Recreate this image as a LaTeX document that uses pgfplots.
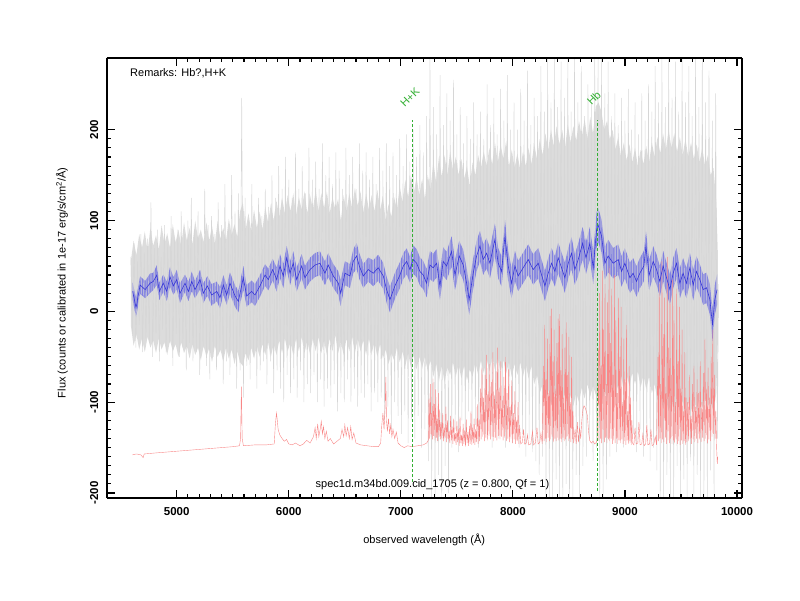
\documentclass[border=0pt]{standalone}
\usepackage{fontspec}
\setmainfont{Liberation Sans}
\usepackage{pgfplots}
\pgfplotsset{compat=1.18}
\usepackage{pgfplotstable}
\usepgfplotslibrary{fillbetween}
\definecolor{bandblue}{RGB}{112,112,226}
\definecolor{lineblue}{RGB}{55,55,215}
\definecolor{skyred}{RGB}{248,135,135}
\definecolor{specgray}{RGB}{214,214,214}
\definecolor{coregray}{RGB}{192,192,192}
\definecolor{mkgreen}{RGB}{50,175,50}

\pgfplotstableread{
x y e
4607 22 8
4637 4 9
4673 29 8
4718 24 8
4762 31 9
4791 33 8
4822 40 9
4845 22 8
4880 31 8
4911 22 9
4940 38 9
4970 28 8
5000 35 9
5029 20 9
5074 31 8
5104 22 9
5134 33 9
5163 24 8
5208 35 9
5237 20 9
5273 28 9
5312 18 10
5357 22 9
5386 15 10
5416 29 9
5446 18 9
5475 31 10
5520 17 10
5550 11 10
5594 37 11
5624 17 10
5669 22 10
5698 18 10
5743 28 10
5788 40 10
5817 35 10
5856 46 10
5892 35 11
5921 50 11
5951 39 11
5981 59 11
6011 42 11
6040 53 11
6070 35 11
6115 50 11
6144 37 11
6189 46 11
6234 51 11
6278 53 11
6323 42 11
6352 51 11
6397 39 11
6442 31 11
6463 20 12
6501 42 11
6546 39 11
6575 55 11
6605 61 12
6629 50 12
6665 39 11
6709 46 11
6754 42 12
6798 48 12
6843 39 12
6873 24 12
6903 13 12
6947 28 12
6992 40 12
7022 50 12
7052 55 12
7081 46 12
7111 57 13
7141 53 13
7170 44 13
7200 40 13
7230 31 13
7260 51 13
7289 48 13
7319 53 13
7349 28 13
7378 55 13
7408 50 13
7453 66 14
7483 40 14
7521 61 14
7557 51 14
7587 31 14
7610 13 14
7646 42 14
7676 61 14
7706 72 14
7735 57 14
7765 64 14
7795 53 14
7839 79 15
7869 53 14
7899 44 14
7929 83 15
7958 50 14
7988 31 14
8018 50 14
8047 39 14
8092 48 14
8137 57 14
8181 46 14
8226 53 14
8256 40 14
8286 28 14
8315 42 14
8345 53 14
8375 44 14
8404 59 14
8434 48 14
8464 37 14
8494 53 14
8523 64 15
8553 46 14
8583 57 15
8622 75 15
8652 59 15
8687 75 15
8717 48 15
8747 90 16
8761 95 16
8791 83 15
8821 53 15
8850 61 15
8895 53 14
8940 57 14
8970 44 14
8999 53 14
9044 37 14
9073 42 14
9103 33 14
9133 42 14
9169 50 14
9187 72 14
9216 40 14
9252 55 14
9282 46 14
9311 33 14
9341 50 14
9371 37 14
9401 24 14
9430 42 14
9460 53 14
9490 31 14
9519 42 14
9549 31 14
9579 48 14
9609 29 14
9638 44 14
9668 35 14
9698 24 14
9728 26 14
9758 13 14
9781 -15 15
9802 13 14
9822 24 14
}\bluetab

\pgfplotstableread{
x up lo
4590 55 -15
4615 78 -38
4640 62 -25
4665 85 -42
4690 70 -30
4715 88 -45
4740 66 -28
4765 92 -40
4790 72 -32
4815 84 -46
4840 68 -30
4865 95 -42
4890 74 -34
4915 86 -48
4940 70 -32
4965 96 -44
4990 76 -36
5015 90 -50
5040 72 -34
5065 98 -46
5090 78 -38
5115 92 -52
5140 74 -36
5165 100 -48
5190 80 -40
5215 90 -54
5240 76 -38
5265 98 -50
5290 78 -40
5315 94 -56
5340 74 -38
5365 100 -50
5390 80 -42
5415 92 -55
5440 78 -40
5465 102 -52
5490 84 -42
5515 96 -58
5540 82 -44
5565 110 -56
5590 120 -60
5615 90 -46
5640 108 -54
5665 88 -40
5690 112 -52
5715 92 -38
5740 110 -50
5765 90 -36
5790 115 -48
5815 98 -34
5840 118 -50
5865 100 -36
5890 122 -48
5915 104 -32
5940 125 -46
5965 108 -30
5990 128 -44
6015 110 -34
6040 130 -48
6065 106 -30
6090 126 -44
6115 112 -28
6140 132 -46
6165 108 -32
6190 128 -48
6215 112 -30
6240 134 -44
6265 110 -28
6290 130 -46
6315 114 -32
6340 132 -48
6365 108 -30
6390 126 -44
6415 112 -26
6440 124 -46
6465 100 -34
6490 128 -48
6515 110 -30
6540 130 -44
6565 114 -28
6590 136 -46
6615 116 -30
6640 132 -44
6665 108 -32
6690 130 -48
6715 112 -30
6740 128 -46
6765 110 -34
6790 134 -50
6815 112 -36
6840 126 -52
6865 100 -42
6890 118 -58
6915 104 -46
6940 126 -54
6965 112 -40
6990 138 -56
7015 120 -44
7040 145 -60
7065 126 -46
7090 150 -62
7115 130 -48
7140 148 -64
7165 128 -50
7190 146 -62
7215 124 -50
7240 150 -66
7265 134 -54
7290 165 -72
7315 142 -58
7340 170 -76
7365 148 -60
7390 172 -78
7415 150 -62
7440 176 -70
7465 156 -56
7490 170 -72
7515 150 -58
7540 168 -74
7565 146 -60
7590 160 -76
7615 138 -64
7640 164 -72
7665 150 -56
7690 172 -70
7715 158 -54
7740 176 -68
7765 160 -52
7790 180 -66
7815 162 -50
7840 186 -64
7865 164 -52
7890 184 -66
7915 168 -54
7940 188 -68
7965 160 -56
7990 178 -72
8015 158 -58
8040 174 -70
8065 156 -56
8090 176 -72
8115 160 -58
8140 180 -74
8165 162 -60
8190 184 -80
8215 168 -70
8240 190 -90
8265 172 -80
8290 196 -100
8315 178 -86
8340 200 -104
8365 182 -88
8390 204 -106
8415 184 -90
8440 200 -104
8465 180 -88
8490 206 -108
8515 186 -92
8540 204 -104
8565 188 -90
8590 210 -100
8615 192 -84
8640 212 -96
8665 190 -80
8690 214 -94
8715 196 -82
8740 226 -92
8765 230 -96
8790 220 -100
8815 200 -86
8840 210 -96
8865 190 -80
8890 200 -90
8915 178 -76
8940 192 -86
8965 170 -72
8990 186 -84
9015 166 -70
9040 184 -82
9065 164 -68
9090 180 -80
9115 160 -66
9140 178 -84
9165 162 -70
9190 182 -86
9215 164 -72
9240 186 -90
9265 170 -80
9290 192 -98
9315 174 -90
9340 196 -108
9365 178 -96
9390 200 -110
9415 180 -98
9440 196 -112
9465 176 -100
9490 192 -110
9515 172 -98
9540 190 -112
9565 170 -100
9590 186 -110
9615 168 -98
9640 184 -108
9665 164 -96
9690 180 -106
9715 160 -96
9740 172 -104
9765 150 -100
9790 158 -110
9815 120 -90
9830 60 -30
}\coretab

\begin{document}
\begin{tikzpicture}
\begin{axis}[
  at={(106.7pt,102pt)}, anchor=south west,
  width=635pt, height=440pt, scale only axis,
  xmin=4375, xmax=10042, ymin=-205.5, ymax=279,
  xtick={5000,6000,7000,8000,9000,10000},
  ytick={-200,-100,0,100,200},
  minor x tick num=9, minor y tick num=9,
  scaled x ticks=false, scaled y ticks=false,
  /pgf/number format/1000 sep={},
  /pgf/number format/assume math mode=true,
  axis on top,
  separate axis lines,
  tick align=inside,
  major tick length=8pt, minor tick length=4pt,
  axis line style={line width=1.6pt, black},
  tick style={line width=1.1pt, black},
  xticklabel style={font=\bfseries\fontsize{11.5}{13}\selectfont},
  yticklabel style={font=\bfseries\fontsize{11.5}{13}\selectfont, rotate=90, anchor=south},
  xticklabel shift=6pt,
  yticklabel shift=5pt,
  xlabel={observed wavelength (Å)},
  ylabel={Flux (counts or calibrated in 1e-17 erg/s/cm\textsuperscript{2}/Å)},
  xlabel style={font=\fontsize{11}{13}\selectfont, at={(axis description cs:0.5,-0.0955)}, anchor=center},
  ylabel style={font=\fontsize{11}{13}\selectfont, at={(axis description cs:-0.0704,0.489)}, anchor=center},
]
% noisy observed spectrum (outer excursions)
\addplot[specgray, line width=0.45pt] coordinates {
(4590,60)(4605,-25)(4620,75)(4635,-40)(4650,55)(4665,-15)(4680,85)(4695,-45)(4710,65)(4725,-30)
(4740,80)(4755,-35)(4770,120)(4785,-50)(4800,70)(4815,-25)(4830,90)(4845,-55)(4860,60)(4875,-20)
(4890,95)(4905,-45)(4920,75)(4935,-35)(4950,105)(4965,-60)(4980,80)(4995,-25)(5010,90)(5025,-50)
(5040,110)(5055,-40)(5070,85)(5085,-65)(5100,100)(5115,-35)(5130,125)(5145,-55)(5160,90)(5175,-45)
(5190,110)(5205,-70)(5220,80)(5235,-40)(5250,135)(5265,-60)(5280,95)(5295,-75)(5310,105)(5325,-50)
(5340,85)(5355,-65)(5370,120)(5385,-45)(5400,95)(5415,-80)(5430,140)(5445,-55)(5460,90)(5475,-70)
(5490,150)(5505,-50)(5520,110)(5535,-85)(5550,130)(5565,-65)(5580,235)(5595,-95)(5610,125)(5625,-60)
(5640,100)(5655,-75)(5670,140)(5685,-50)(5700,95)(5715,-85)(5730,125)(5745,-65)(5760,105)(5775,-55)
(5790,135)(5805,-80)(5820,115)(5835,-55)(5850,150)(5865,-90)(5880,125)(5895,-65)(5910,160)(5925,-85)
(5940,135)(5955,-100)(5970,170)(5985,-70)(6000,145)(6015,-90)(6030,125)(6045,-75)(6060,175)(6075,-95)
(6090,135)(6105,-65)(6120,160)(6135,-100)(6150,130)(6165,-80)(6180,180)(6195,-90)(6210,145)(6225,-70)
(6240,165)(6255,-100)(6270,135)(6285,-75)(6300,185)(6315,-105)(6330,150)(6345,-85)(6360,170)(6375,-95)
(6390,140)(6405,-80)(6420,175)(6435,-110)(6450,155)(6465,-90)(6480,135)(6495,-100)(6510,180)(6525,-75)
(6540,150)(6555,-100)(6570,170)(6585,-85)(6600,135)(6615,-105)(6630,185)(6645,-90)(6660,155)(6675,-95)
(6690,175)(6705,-80)(6720,145)(6735,-110)(6750,170)(6765,-90)(6780,140)(6795,-100)(6810,180)(6825,-95)
(6840,155)(6855,-120)(6870,185)(6885,-105)(6900,160)(6915,-130)(6930,175)(6945,-100)(6960,150)(6975,-115)
(6990,190)(7005,-135)(7020,160)(7035,-110)(7050,195)(7065,-145)(7080,165)(7095,-120)(7110,200)(7125,-140)
(7140,170)(7155,-115)(7170,205)(7185,-150)(7200,175)(7215,-130)(7230,215)(7245,-165)(7260,279)(7275,-205)
(7290,225)(7305,-205)(7320,195)(7335,-180)(7350,260)(7365,-205)(7380,205)(7395,-170)(7410,240)(7425,-200)
(7440,210)(7455,-150)(7470,255)(7485,-130)(7500,195)(7515,-155)(7530,225)(7545,-120)(7560,185)(7575,-140)
(7590,215)(7605,-110)(7620,190)(7635,-140)(7650,230)(7665,-125)(7680,195)(7695,-150)(7710,220)(7725,-115)
(7740,190)(7755,-135)(7770,250)(7785,-120)(7800,205)(7815,-150)(7830,235)(7845,-130)(7860,195)(7875,-140)
(7890,245)(7905,-115)(7920,210)(7935,-150)(7950,260)(7965,-130)(7980,200)(7995,-145)(8010,230)(8025,-120)
(8040,200)(8055,-150)(8070,245)(8085,-135)(8100,210)(8115,-160)(8130,265)(8145,-140)(8160,205)(8175,-155)
(8190,235)(8205,-165)(8220,215)(8235,-180)(8250,270)(8265,-160)(8280,220)(8295,-205)(8310,279)(8325,-205)
(8340,230)(8355,-205)(8370,279)(8385,-185)(8400,225)(8415,-205)(8430,275)(8445,-205)(8460,235)(8475,-190)
(8490,279)(8505,-205)(8520,220)(8535,-205)(8550,279)(8565,-180)(8580,230)(8595,-205)(8610,270)(8625,-170)
(8640,215)(8655,-160)(8670,250)(8685,-140)(8700,230)(8715,-165)(8730,279)(8745,-150)(8760,279)(8775,-205)
(8790,279)(8805,-205)(8820,240)(8835,-185)(8850,275)(8865,-160)(8880,215)(8895,-140)(8910,240)(8925,-155)
(8940,205)(8955,-130)(8970,235)(8985,-150)(9000,210)(9015,-125)(9030,245)(9045,-145)(9060,200)(9075,-135)
(9090,230)(9105,-155)(9120,195)(9135,-130)(9150,240)(9165,-160)(9180,210)(9195,-140)(9210,250)(9225,-165)
(9240,220)(9255,-150)(9270,270)(9285,-175)(9300,230)(9315,-205)(9330,279)(9345,-205)(9360,225)(9375,-180)
(9390,279)(9405,-205)(9420,235)(9435,-205)(9450,275)(9465,-170)(9480,220)(9495,-205)(9510,279)(9525,-185)
(9540,230)(9555,-205)(9570,270)(9585,-165)(9600,215)(9615,-205)(9630,279)(9645,-180)(9660,225)(9675,-205)
(9690,279)(9705,-205)(9720,230)(9735,-205)(9750,265)(9765,-175)(9780,210)(9795,-205)(9810,240)(9825,-140)(9835,30)
};
% dense core of the noisy spectrum
\addplot[draw=none, name path=cup, forget plot] table[x=x, y=up] {\coretab};
\addplot[draw=none, name path=clo, forget plot] table[x=x, y=lo] {\coretab};
\addplot[coregray, fill opacity=0.55, draw=none] fill between[of=cup and clo];
% sky spectrum
\addplot[skyred, line width=0.4pt] coordinates {
(4605,-158)(4640,-157)(4680,-158)(4700,-161)(4710,-157)(4800,-156)(4900,-155)(5000,-154)(5100,-153)(5200,-152)
(5300,-151)(5400,-150)(5500,-149)(5560,-148)(5570,-140)(5577,-83)(5584,-140)(5595,-148)(5700,-147)(5800,-147)
(5870,-146)(5880,-125)(5890,-112)(5896,-118)(5905,-130)(5920,-136)(5940,-140)(5960,-143)(5980,-141)(6000,-146)
(6030,-147)(6060,-145)(6100,-148)(6130,-146)(6160,-142)(6190,-145)(6220,-138)(6235,-128)(6245,-140)(6258,-124)
(6268,-138)(6280,-130)(6290,-121)(6300,-135)(6310,-127)(6322,-140)(6335,-132)(6350,-143)(6370,-140)(6400,-146)
(6430,-143)(6460,-140)(6475,-130)(6490,-138)(6500,-125)(6512,-137)(6525,-128)(6540,-140)(6553,-127)(6565,-141)
(6580,-134)(6600,-145)(6640,-147)(6700,-148)(6760,-149)(6800,-149)(6820,-145)(6830,-125)(6840,-112)(6850,-130)
(6860,-105)(6866,-72)(6872,-120)(6880,-132)(6890,-118)(6900,-135)(6910,-125)(6920,-138)(6930,-130)(6945,-140)
(6960,-133)(6975,-145)(7000,-148)(7030,-150)(7060,-148)(7100,-149)(7150,-148)(7200,-147)(7230,-145)
(7245,-142)(7251,-96)(7257,-140)(7263,-80)(7269,-138)(7275,-112)(7281,-141)(7287,-74)(7293,-137)(7299,-102)
(7305,-142)(7311,-86)(7317,-139)(7323,-118)(7329,-143)(7335,-90)(7341,-138)(7347,-108)(7353,-141)
(7360,-122)(7367,-140)(7374,-112)(7381,-143)(7388,-128)(7395,-139)(7402,-105)(7409,-144)(7416,-120)(7423,-141)
(7430,-132)(7437,-145)(7444,-115)(7451,-142)(7458,-127)(7465,-146)(7472,-118)(7479,-143)(7486,-134)(7493,-147)
(7500,-121)(7507,-144)(7514,-130)(7521,-148)(7528,-116)(7535,-145)(7542,-136)(7549,-148)(7556,-124)(7563,-146)
(7570,-131)(7577,-149)(7584,-119)(7591,-145)(7598,-133)(7605,-148)(7612,-126)(7619,-146)(7626,-110)(7633,-147)
(7640,-128)(7647,-145)(7654,-118)(7661,-147)(7668,-130)(7675,-144)(7682,-102)(7689,-146)(7696,-120)(7703,-143)
(7710,-85)(7717,-141)(7724,-62)(7731,-138)(7738,-95)(7745,-143)(7752,-70)(7759,-139)(7766,-48)(7773,-142)
(7780,-88)(7787,-137)(7794,-58)(7801,-141)(7808,-78)(7815,-138)(7822,-45)(7829,-143)(7836,-92)(7843,-139)
(7850,-66)(7857,-142)(7864,-40)(7871,-137)(7878,-84)(7885,-141)(7892,-55)(7899,-138)(7906,-98)(7913,-142)
(7920,-72)(7927,-139)(7934,-50)(7941,-143)(7948,-90)(7955,-140)(7962,-64)(7969,-144)(7976,-105)(7983,-140)
(7990,-76)(7997,-145)(8004,-112)(8011,-141)(8018,-88)(8025,-146)(8032,-120)(8039,-143)(8046,-100)(8053,-146)
(8060,-125)(8070,-146)(8085,-144)(8095,-130)(8105,-146)(8120,-145)(8130,-136)(8140,-147)(8160,-146)(8175,-132)
(8185,-147)(8200,-145)(8215,-128)(8225,-146)(8240,-144)(8250,-134)(8262,-146)
(8272,-60)(8278,-143)(8284,-15)(8290,-140)(8296,-75)(8302,-144)(8308,-30)(8314,-139)(8320,-90)(8326,-143)
(8332,-5)(8338,-141)(8344,3)(8350,-138)(8356,-55)(8362,-144)(8368,-20)(8374,-140)(8380,-85)(8386,-143)
(8392,-35)(8398,-139)(8404,-8)(8410,-142)(8416,-3)(8422,-140)(8428,-65)(8434,-144)(8440,-25)(8446,-139)
(8452,-95)(8458,-143)(8464,-40)(8470,-141)(8476,-12)(8482,-138)(8488,-70)(8494,-143)(8500,-28)(8506,-140)
(8512,-100)(8518,-144)(8524,-50)(8530,-141)(8536,-110)(8542,-145)
(8555,-130)(8565,-146)(8575,-122)(8585,-144)(8595,-128)(8605,-140)(8615,-120)(8625,-108)(8635,-104)(8645,-106)
(8655,-110)(8665,-115)(8675,-132)(8685,-142)(8700,-145)(8715,-143)(8730,-146)(8745,-144)(8755,-140)
(8762,-40)(8768,-143)(8774,20)(8780,-140)(8786,-60)(8792,-145)(8798,45)(8804,-141)(8810,-20)(8816,-144)
(8822,30)(8828,-139)(8834,-80)(8840,-145)(8846,10)(8852,-141)(8858,50)(8864,-143)(8870,-35)(8876,-140)
(8882,25)(8888,-146)(8894,-70)(8900,-142)(8906,40)(8912,-145)(8918,-10)(8924,-140)(8930,-90)(8936,-146)
(8942,15)(8948,-142)(8954,-50)(8960,-145)(8966,5)(8972,-141)(8978,-100)(8984,-146)(8990,-30)(8996,-143)
(9002,-75)(9008,-147)(9014,-15)(9020,-142)(9026,-110)(9032,-146)(9038,-60)(9044,-143)(9050,-95)(9056,-147)
(9062,-120)(9068,-145)
(9080,-147)(9090,-128)(9100,-146)(9115,-145)(9125,-122)(9135,-147)(9150,-146)(9160,-135)(9170,-148)(9185,-146)
(9195,-125)(9205,-147)(9220,-146)(9232,-130)(9242,-148)(9258,-146)(9270,-138)(9282,-147)
(9294,-50)(9300,-143)(9306,30)(9312,-140)(9318,-80)(9324,-145)(9330,55)(9336,-141)(9342,-25)(9348,-144)
(9354,15)(9360,-139)(9366,-90)(9372,-146)(9378,60)(9384,-142)(9390,-40)(9396,-145)(9402,20)(9408,-140)
(9414,-70)(9420,-146)(9426,35)(9432,-142)(9438,-10)(9444,-145)(9450,-100)(9456,-141)(9462,25)(9468,-146)
(9474,-55)(9480,-143)(9486,5)(9492,-147)(9498,-85)(9504,-142)(9510,-20)(9516,-146)(9522,-110)(9528,-143)
(9534,-45)(9540,-147)(9546,-95)(9552,-144)
(9560,-100)(9567,-143)(9574,-70)(9581,-140)(9588,-115)(9595,-146)(9602,-80)(9609,-141)(9616,-60)(9623,-144)
(9630,-105)(9637,-140)(9644,-75)(9651,-145)(9658,-90)(9665,-141)(9672,-55)(9679,-144)(9686,-100)(9693,-139)
(9700,-68)(9707,-143)(9714,-30)(9721,-140)(9728,-85)(9735,-145)(9742,-62)(9749,-141)(9756,-95)(9763,-143)
(9770,-50)(9777,-138)(9784,-20)(9791,-135)(9798,-70)(9805,-140)(9812,-110)(9818,-150)(9824,-168)(9828,-160)
};
% smoothed spectrum with band
\addplot[draw=none, name path=bup, forget plot] table[x=x, y expr=\thisrow{y}+1.2*\thisrow{e}] {\bluetab};
\addplot[draw=none, name path=blo, forget plot] table[x=x, y expr=\thisrow{y}-1.2*\thisrow{e}] {\bluetab};
\addplot[bandblue, fill opacity=0.85, draw=none] fill between[of=bup and blo];
\addplot[lineblue, line width=0.6pt] table[x=x, y=y] {\bluetab};
% line markers
\addplot[mkgreen, line width=0.8pt, dash pattern=on 3pt off 2pt] coordinates {(7105,-188) (7105,211)};
\addplot[mkgreen, line width=0.8pt, dash pattern=on 3pt off 2pt] coordinates {(8752,-198) (8752,211)};
\node[rotate=45, anchor=base west, text=mkgreen, font=\fontsize{11}{13}\selectfont, inner sep=0pt] at (axis cs:7035,224) {H+K};
\node[rotate=45, anchor=base west, text=mkgreen, font=\fontsize{11}{13}\selectfont, inner sep=0pt] at (axis cs:8702,226) {Hb};
\node[anchor=west, font=\fontsize{11}{13}\selectfont, inner sep=0pt] at (rel axis cs:0.0367,0.966) {Remarks: Hb?,H+K};
\node[anchor=center, font=\fontsize{11}{13}\selectfont, inner sep=0pt] at (rel axis cs:0.513,0.0295) {spec1d.m34bd.009.cid\_1705 (z = 0.800, Qf = 1)};
\end{axis}
\pgfresetboundingbox
\path[use as bounding box] (0pt,0pt) rectangle (800pt,600pt);
\end{tikzpicture}
\end{document}
